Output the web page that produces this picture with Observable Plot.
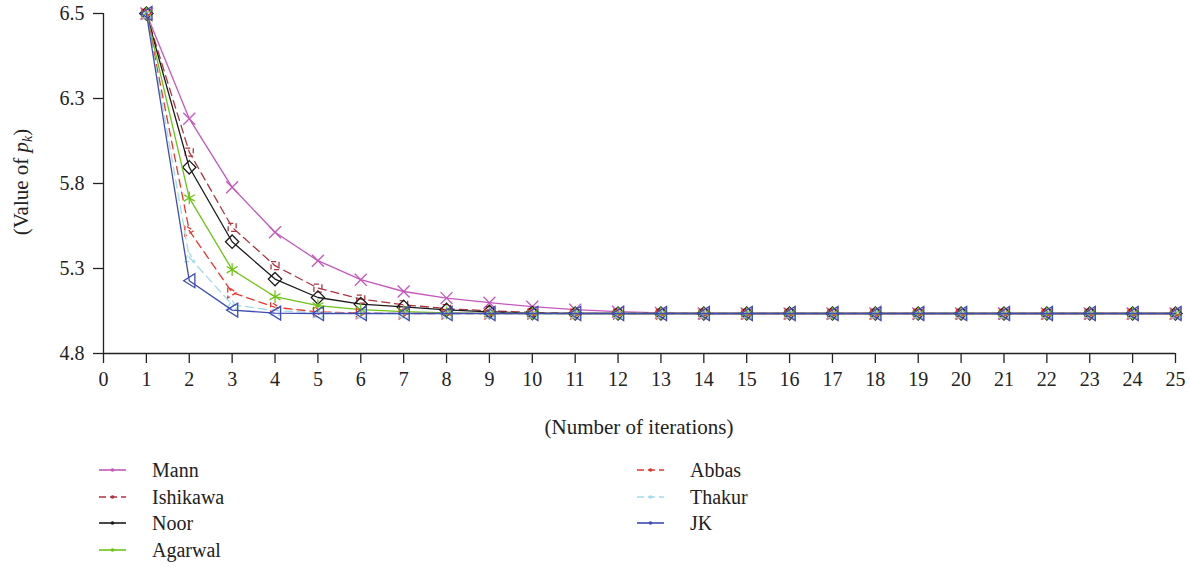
<!DOCTYPE html>
<html>
<head>
<meta charset="utf-8">
<script src="https://cdn.jsdelivr.net/npm/d3@7"></script>
<script src="https://cdn.jsdelivr.net/npm/@observablehq/plot@0.6"></script>
<style>
  body { margin: 0; background: #fff; }
  #wrap { position: relative; width: 1190px; height: 567px; }
  #legend { position: absolute; left: 0; top: 0; width: 1190px; height: 567px; pointer-events: none; }
  .li { position: absolute; display: flex; align-items: center; font-size: 20px; color: #222; }
  .li svg { margin-right: 26px; }
</style>
</head>
<body>
<div id="wrap"><div id="chart"></div><div id="legend"></div></div>
<script>
// ---- data ----
const iterations = d3.range(1, 26);
const methods = ["Mann", "Ishikawa", "Noor", "Agarwal", "Abbas", "Thakur", "JK"];
const Mann     = [6.5, 5.974, 5.631, 5.406, 5.264, 5.169, 5.110, 5.077, 5.054, 5.034, 5.019, 5.009, 5.003, 5.0, 5.0, 5.0, 5.0, 5.0, 5.0, 5.0, 5.0, 5.0, 5.0, 5.0, 5.0];
const Ishikawa = [6.5, 5.807, 5.431, 5.239, 5.127, 5.072, 5.044, 5.024, 5.014, 5.005, 5.001, 5.0, 5.0, 5.0, 5.0, 5.0, 5.0, 5.0, 5.0, 5.0, 5.0, 5.0, 5.0, 5.0, 5.0];
const Noor     = [6.5, 5.731, 5.359, 5.172, 5.080, 5.047, 5.033, 5.018, 5.008, 5.002, 5.0, 5.0, 5.0, 5.0, 5.0, 5.0, 5.0, 5.0, 5.0, 5.0, 5.0, 5.0, 5.0, 5.0, 5.0];
const Agarwal  = [6.5, 5.578, 5.219, 5.084, 5.039, 5.019, 5.009, 5.003, 5.0, 5.0, 5.0, 5.0, 5.0, 5.0, 5.0, 5.0, 5.0, 5.0, 5.0, 5.0, 5.0, 5.0, 5.0, 5.0, 5.0];
const Abbas    = [6.5, 5.414, 5.105, 5.031, 5.008, 5.002, 5.0, 5.0, 5.0, 5.0, 5.0, 5.0, 5.0, 5.0, 5.0, 5.0, 5.0, 5.0, 5.0, 5.0, 5.0, 5.0, 5.0, 5.0, 5.0];
const Thakur   = [6.5, 5.281, 5.044, 5.014, 5.004, 5.0, 5.0, 5.0, 5.0, 5.0, 5.0, 5.0, 5.0, 5.0, 5.0, 5.0, 5.0, 5.0, 5.0, 5.0, 5.0, 5.0, 5.0, 5.0, 5.0];
const JK       = [6.5, 5.164, 5.017, 5.002, 5.0, 5.0, 5.0, 5.0, 5.0, 5.0, 5.0, 5.0, 5.0, 5.0, 5.0, 5.0, 5.0, 5.0, 5.0, 5.0, 5.0, 5.0, 5.0, 5.0, 5.0];
const xTicks = d3.range(0, 26);
const yTicks = [4.8, 5.225, 5.65, 6.075, 6.5];
const yTickLabels = ["4.8", "5.3", "5.8", "6.3", "6.5"];
const xLabel = "(Number of iterations)";

// ---- styles ----
const FONT = "'Liberation Serif', 'Times New Roman', serif";
const seriesValues = {Mann, Ishikawa, Noor, Agarwal, Abbas, Thakur, JK};
const colors = {Mann: "#c458bd", Ishikawa: "#b0323c", Noor: "#1b1b1b", Agarwal: "#6cc414", Abbas: "#e8352b", Thakur: "#a2dbec", JK: "#3e4db2"};
const dashed = {Mann: false, Ishikawa: true, Noor: false, Agarwal: false, Abbas: true, Thakur: true, JK: false};

function triSymbol(angle) {
  return {
    draw(ctx, size) {
      const r = Math.sqrt(size / Math.PI);
      const pts = [[-0.8 * r, 0], [0.8 * r, -r], [0.8 * r, r]].map(([x, y]) => {
        const c = Math.cos(angle), s = Math.sin(angle);
        return [x * c - y * s, x * s + y * c];
      });
      ctx.moveTo(pts[0][0], pts[0][1]);
      ctx.lineTo(pts[1][0], pts[1][1]);
      ctx.lineTo(pts[2][0], pts[2][1]);
      ctx.closePath();
    }
  };
}
const symbols = {
  Mann: "times", Ishikawa: "square", Noor: "diamond2", Agarwal: "asterisk",
  Abbas: triSymbol(Math.PI), Thakur: triSymbol(Math.PI / 2), JK: triSymbol(0)
};
const radii = {Mann: 5.5, Ishikawa: 4.5, Noor: 6, Agarwal: 6, Abbas: 5.5, Thakur: 5.5, JK: 7};

const rows = methods.flatMap(m => seriesValues[m].map((v, i) => ({method: m, iter: iterations[i], value: v})));

const seriesMarks = methods.flatMap(m => {
  const data = rows.filter(d => d.method === m);
  return [
    Plot.line(data, {x: "iter", y: "value", stroke: colors[m], strokeWidth: 1.3,
      strokeDasharray: dashed[m] ? "8,5" : null}),
    Plot.dot(data, {x: "iter", y: "value", symbol: symbols[m], r: radii[m], stroke: colors[m],
      fill: "none", strokeWidth: 1.3, strokeDasharray: dashed[m] ? "5,3" : null})
  ];
});

const chart = Plot.plot({
  width: 1190, height: 445,
  marginLeft: 103, marginRight: 15, marginTop: 13, marginBottom: 92,
  x: {domain: [0, 25]},
  y: {domain: [4.8, 6.5]},
  style: {fontSize: "20px", color: "#222", background: "#fff"},
  marks: [
    Plot.ruleX([0], {y1: 4.8, y2: 6.5, stroke: "#222", strokeWidth: 1.3}),
    Plot.ruleY([4.8], {x1: 0, x2: 25, stroke: "#222", strokeWidth: 1.3}),
    Plot.axisX({ticks: xTicks, tickSize: 10, tickPadding: 8, label: null, tickFormat: d => String(d), stroke: "#222", strokeWidth: 1.3, fontSize: 20}),
    Plot.axisY({ticks: yTicks, tickSize: 10, tickPadding: 9, label: null, tickFormat: d => yTickLabels[yTicks.indexOf(d)], stroke: "#222", strokeWidth: 1.3, fontSize: 20}),
    ...seriesMarks
  ]
});
document.getElementById("chart").appendChild(chart);

// axis titles
const svg = d3.select(chart);
svg.style("font-family", FONT);
svg.append("text").attr("x", 639).attr("y", 434).attr("text-anchor", "middle")
  .attr("font-size", 21).attr("fill", "#222").text(xLabel);
const yl = svg.append("text").attr("transform", "translate(28,182) rotate(-90)")
  .attr("text-anchor", "middle").attr("font-size", 21).attr("fill", "#222");
yl.append("tspan").text("(Value of ");
yl.append("tspan").attr("font-style", "italic").text("p");
yl.append("tspan").attr("font-style", "italic").attr("font-size", 14).attr("dy", 4).text("k");
yl.append("tspan").attr("dy", -4).text(")");
svg.selectAll("text").style("font-family", FONT);

// legend
const legendPos = {
  Mann: [99, 470], Ishikawa: [99, 497], Noor: [99, 523], Agarwal: [99, 550],
  Abbas: [637, 470], Thakur: [637, 497], JK: [637, 523]
};
const leg = d3.select("#legend");
methods.forEach(m => {
  const [x, y] = legendPos[m];
  const item = leg.append("div").attr("class", "li").style("font-family", FONT)
    .style("left", x + "px").style("top", (y - 12) + "px").style("height", "24px");
  const s = item.append("svg").attr("width", 27).attr("height", 10);
  s.append("line").attr("x1", 0).attr("x2", 27).attr("y1", 5).attr("y2", 5)
    .attr("stroke", colors[m]).attr("stroke-width", 1.6).attr("stroke-dasharray", dashed[m] ? "7,4" : null);
  s.append("circle").attr("cx", 13.5).attr("cy", 5).attr("r", 1.8).attr("fill", colors[m]);
  item.append("span").text(m);
});
</script>
</body>
</html>
